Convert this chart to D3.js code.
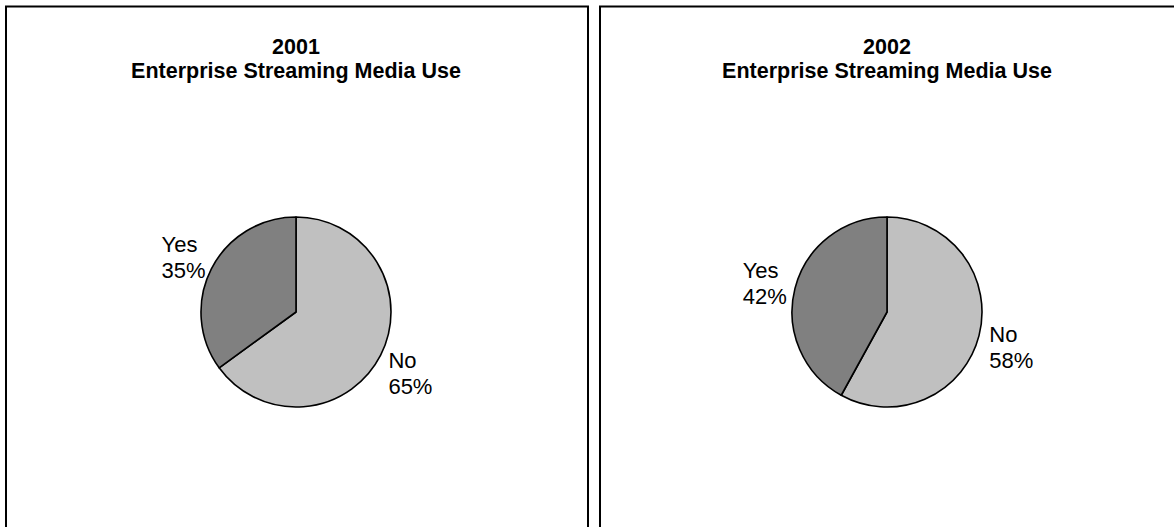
<!DOCTYPE html>
<html>
<head>
<meta charset="utf-8">
<script src="https://cdn.jsdelivr.net/npm/d3@7/dist/d3.min.js"></script>
<style>
  html, body { margin: 0; padding: 0; background: #fff; }
  svg { display: block; font-family: "Liberation Sans", Arial, Helvetica, sans-serif; }
</style>
</head>
<body>
<svg id="chart" width="1174" height="527"></svg>
<script>
// Survey results: share of enterprises using streaming media
const years = ["2001", "2002"];
const categories = ["No", "Yes"];
const shares2001 = [65, 35];
const shares2002 = [58, 42];
const chartTitle = "Enterprise Streaming Media Use";

const seriesByYear = [shares2001, shares2002];

const svg = d3.select("#chart");

// Panel layout: two framed panels side by side
const panels = [
  { x: 6, y: 6.5, w: 582 },
  { x: 600, y: 6.5, w: 576 }
];
const panelH = 560;
const pieR = 95;
const pieCY = 312;
const labelRadius = pieR * 1.34;
const labelSize = 22;
const lineGap = 26;

const color = d3.scaleOrdinal()
  .domain(categories)
  .range(["#c0c0c0", "#808080"]);

const pie = d3.pie().sort(null).value(d => d.value);
const arc = d3.arc().innerRadius(0).outerRadius(pieR);
const labelArc = d3.arc().innerRadius(labelRadius).outerRadius(labelRadius);

years.forEach((year, i) => {
  const p = panels[i];
  const g = svg.append("g");

  g.append("rect")
    .attr("x", p.x).attr("y", p.y)
    .attr("width", p.w).attr("height", panelH)
    .attr("fill", "#fff")
    .attr("stroke", "#000")
    .attr("stroke-width", 2);

  const cx = p.x + p.w / 2 - 1;

  // Title (two lines)
  const title = g.append("text")
    .attr("text-anchor", "middle")
    .attr("font-weight", "bold")
    .attr("font-size", 21.5)
    .attr("fill", "#000");
  title.append("tspan").attr("x", cx).attr("y", 54).text(year);
  title.append("tspan").attr("x", cx).attr("y", 78).text(chartTitle);

  const data = categories.map((c, k) => ({ category: c, value: seriesByYear[i][k] }));
  const arcs = pie(data);

  const pg = g.append("g").attr("transform", `translate(${cx},${pieCY})`);

  pg.selectAll("path")
    .data(arcs)
    .join("path")
    .attr("d", arc)
    .attr("fill", d => color(d.data.category))
    .attr("stroke", "#000")
    .attr("stroke-width", 1.6)
    .attr("stroke-linejoin", "round");

  // Category / percentage labels placed outside each slice
  arcs.forEach(a => {
    const [lx, ly] = labelArc.centroid(a);
    const t = pg.append("text")
      .attr("font-size", labelSize)
      .attr("fill", "#000");
    const lines = [a.data.category, a.data.value + "%"];
    const spans = lines.map((s, k) =>
      t.append("tspan").attr("y", ly - lineGap / 2 + k * lineGap + 11).text(s));
    const maxW = d3.max(spans, s => s.node().getComputedTextLength());
    spans.forEach(s => s.attr("x", lx - maxW / 2 + 1));
  });
});
</script>
</body>
</html>
